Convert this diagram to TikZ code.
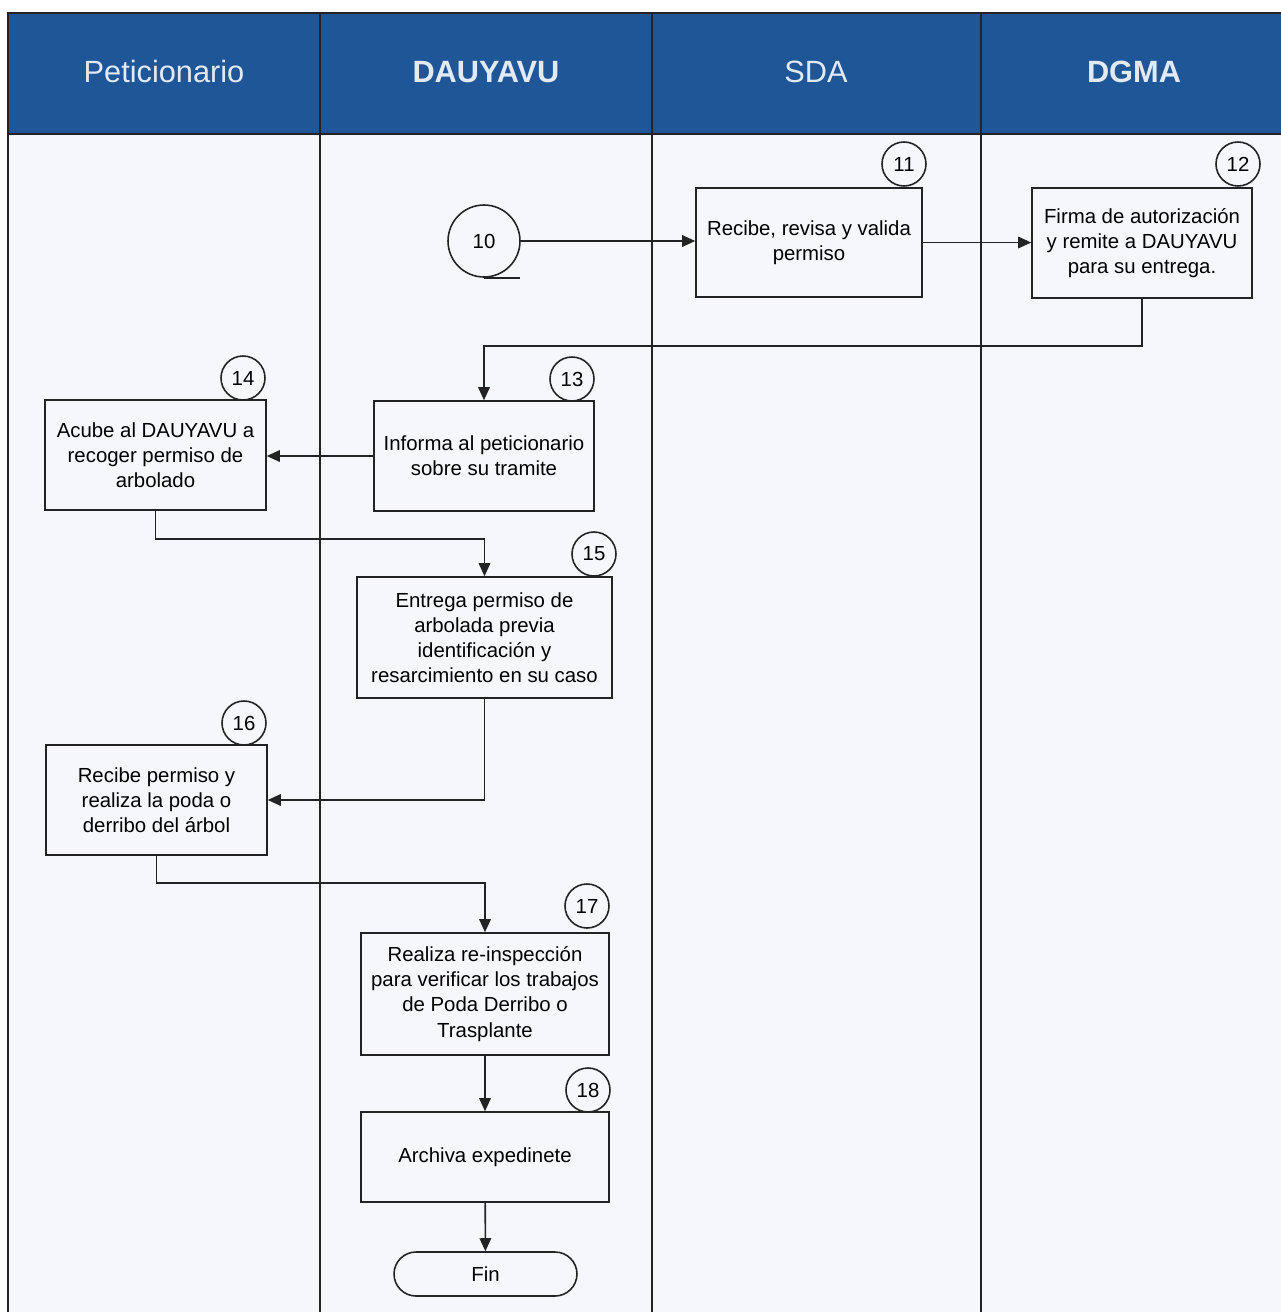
\documentclass[tikz,border=0pt]{standalone}
\usepackage{fontspec}
\setmainfont{Liberation Sans}
\usetikzlibrary{arrows.meta,positioning,calc}
\definecolor{headblue}{RGB}{31,86,152}
\definecolor{headtext}{RGB}{226,234,247}
\definecolor{lanebg}{RGB}{246,247,252}
\definecolor{ink}{RGB}{35,35,35}
\begin{document}
\begin{tikzpicture}[
  x=0.02cm, y=-0.02cm,
  box/.style={
    draw=ink,
    line width=0.9pt,
    align=center,
    inner sep=2pt,
    font=\fontsize{11.6}{14.3}\selectfont
  },
  badge/.style={
    draw=ink,
    line width=0.9pt,
    circle,
    minimum size=0.88cm,
    inner sep=0pt,
    font=\fontsize{11.6}{13}\selectfont
  },
  lane/.style={
    text=headtext,
    font=\fontsize{17.5}{20}\selectfont
  },
  arr/.style={-{Triangle[length=2.6mm,width=2.3mm]}, line width=0.9pt, draw=ink}
]
\useasboundingbox (0,0) rectangle (1281,1312);

\fill[lanebg] (8,134) rectangle (1281,1312);
\fill[headblue] (8,13) rectangle (1281,134);
\draw[ink, line width=0.9pt] (1281,13) -- (8,13) -- (8,1312);
\draw[ink, line width=0.9pt] (8,134) -- (1281,134);
\foreach \lx in {320,652,981}
  \draw[ink, line width=0.9pt] (\lx,13) -- (\lx,1312);

\node[lane] (hpet) at (164,72) {Peticionario};
\node[lane, font=\fontsize{17.5}{20}\selectfont\bfseries] (hdau) at (486,72) {DAUYAVU};
\node[lane] (hsda) at (816,72) {SDA};
\node[lane, font=\fontsize{17.5}{20}\selectfont\bfseries] (hdgm) at (1134,72) {DGMA};

\node[badge, minimum size=1.44cm] (c10) at (484,241) {10};
\draw[ink, line width=0.9pt] (c10.south) -- ++(36,0);

\node[box, minimum width=4.52cm, minimum height=2.18cm] (b11) at (809,242.5) {Recibe, revisa y valida\\permiso};
\node[box, minimum width=4.4cm, minimum height=2.2cm] (b12) at (1142,243) {Firma de autorización\\y remite a DAUYAVU\\para su entrega.};
\node[box, minimum width=4.4cm, minimum height=2.2cm] (b13) at (484,456) {Informa al peticionario\\sobre su tramite};
\node[box, minimum width=4.42cm, minimum height=2.2cm] (b14) at (155.5,455) {Acube al DAUYAVU a\\recoger permiso de\\arbolado};
\node[box, minimum width=5.1cm, minimum height=2.42cm] (b15) at (484.5,637.5) {Entrega permiso de\\arbolada previa\\identificación y\\resarcimiento en su caso};
\node[box, minimum width=4.42cm, minimum height=2.2cm] (b16) at (156.5,800) {Recibe permiso y\\realiza la poda o\\derribo del árbol};
\node[box, minimum width=4.96cm, minimum height=2.44cm] (b17) at (485,994) {Realiza re-inspección\\para verificar los trabajos\\de Poda Derribo o\\Trasplante};
\node[box, minimum width=4.96cm, minimum height=1.8cm] (b18) at (485,1157) {Archiva expedinete};
\node[box, rounded corners=0.44cm, minimum width=3.66cm, minimum height=0.88cm] (fin) at (485.5,1274) {Fin};

\node[badge] (n11) at (904,164) {11};
\node[badge] (n12) at (1238,164) {12};
\node[badge] (n13) at (572,379) {13};
\node[badge] (n14) at (243,378) {14};
\node[badge] (n15) at (594,554) {15};
\node[badge] (n16) at (244,723) {16};
\node[badge] (n17) at (587,906) {17};
\node[badge] (n18) at (588,1090) {18};

\draw[arr] (c10.east) -- (c10.east -| b11.west);
\draw[arr] (b11.east) -- (b11.east -| b12.west);
\draw[arr] (b12.south) -- ++(0,47) -| (b13.north);
\draw[arr] (b13.west) -- (b13.west -| b14.east);
\draw[arr] (b14.south) -- ++(0,28) -| (b15.north);
\draw[arr] (b15.south) |- (b16.east);
\draw[arr] (b16.south) -- ++(0,27) -| (b17.north);
\draw[arr] (b17) -- (b18);
\draw[arr] (b18) -- (fin);

\end{tikzpicture}
\end{document}
